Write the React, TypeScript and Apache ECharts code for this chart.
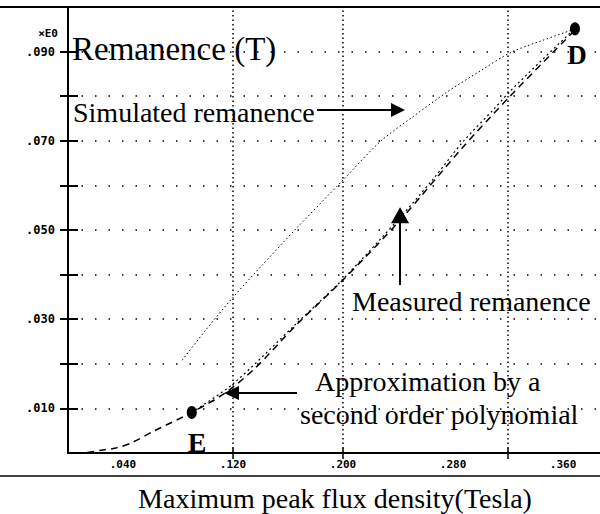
import React, { useEffect, useRef } from "react";
import * as echarts from "echarts";

// ---- data ----
const simX = [0.083, 0.1, 0.12, 0.14, 0.165, 0.2, 0.227, 0.25, 0.276, 0.3, 0.322, 0.345, 0.367];
const simY = [0.0208, 0.0275, 0.0349, 0.0417, 0.05, 0.0612, 0.0698, 0.0752, 0.081, 0.0857, 0.0898, 0.0925, 0.0949];

const apprX = [0.014, 0.024, 0.036, 0.047, 0.063, 0.09, 0.114, 0.136, 0.166, 0.2, 0.2415, 0.287, 0.3215, 0.367];
const apprY = [0.0001, 0.0006, 0.0012, 0.0024, 0.005, 0.0091, 0.0134, 0.019, 0.0287, 0.0388, 0.0522, 0.0685, 0.08, 0.0943];

const measX = [0.09, 0.12, 0.166, 0.2, 0.2415, 0.265, 0.287, 0.31, 0.3215, 0.345, 0.367];
const measY = [0.0091, 0.0155, 0.029, 0.039, 0.0528, 0.0612, 0.0697, 0.0772, 0.0811, 0.0882, 0.0947];

const pointE = [0.09, 0.0091];
const pointD = [0.3687, 0.0951];
const triangleMark = [0.2415, 0.0533];

const yTicks = [0.01, 0.02, 0.03, 0.04, 0.05, 0.06, 0.07, 0.08, 0.09];
const yLabels = [0.01, 0.03, 0.05, 0.07, 0.09];
const xLabels = [0.04, 0.12, 0.2, 0.28, 0.36];
const xTicks = [0.12, 0.2, 0.32];
const xGrid = [0.12, 0.2, 0.32];

const SERIF = "'Liberation Serif', 'DejaVu Serif', serif";
const MONO = "'DejaVu Sans Mono', 'Liberation Mono', monospace";

const fmt = (v: number) => "." + String(Math.round(v * 1000)).padStart(3, "0");
const zip = (xs: number[], ys: number[]) => xs.map((x, i) => [x, ys[i]]);

export default function App() {
  const ref = useRef<HTMLDivElement>(null);
  useEffect(() => {
    document.body.style.margin = "0";
    if (!ref.current) return;
    const chart = echarts.init(ref.current, undefined, { renderer: "svg" });
    const black = "#000";
    const text = (t: string, x: number, y: number, size: number, extra: any = {}) => ({
      type: "text",
      x,
      y,
      silent: true,
      style: {
        text: t,
        font: `${extra.bold ? "bold " : ""}${size}px ${SERIF}`,
        fill: black,
        textAlign: extra.align || "left",
        textVerticalAlign: "middle",
      },
    });
    chart.setOption({
      animation: false,
      backgroundColor: "#fff",
      grid: { left: 68, right: 0, top: 7, bottom: 61 },
      xAxis: [
        {
          type: "value",
          min: 0,
          max: 0.3869,
          position: "bottom",
          axisLine: { show: true, lineStyle: { color: black, width: 2 } },
          axisTick: { show: true, customValues: xTicks, length: 6, lineStyle: { color: black, width: 1.5 } },
          axisLabel: {
            customValues: xLabels,
            formatter: fmt,
            margin: 6,
            fontFamily: MONO,
            fontWeight: "bold",
            fontSize: 11,
            color: black,
          },
          splitLine: { show: false },
        },
        {
          type: "value",
          min: 0,
          max: 0.3869,
          position: "bottom",
          offset: 0,
          axisLine: { show: false },
          axisTick: { show: true, inside: true, customValues: xTicks, length: 5, lineStyle: { color: black, width: 1.5 } },
          axisLabel: { show: false },
          splitLine: { show: false },
        },
      ],
      yAxis: [
        {
          type: "value",
          min: 0,
          max: 0.1,
          position: "left",
          axisLine: { show: true, lineStyle: { color: black, width: 2 } },
          axisTick: { show: true, customValues: yTicks, length: 8, lineStyle: { color: black, width: 2 } },
          axisLabel: {
            customValues: yLabels,
            formatter: fmt,
            margin: 13,
            fontFamily: MONO,
            fontWeight: "bold",
            fontSize: 12,
            color: black,
          },
          splitLine: { show: false },
        },
        {
          type: "value",
          min: 0,
          max: 0.1,
          position: "left",
          offset: 0,
          axisLine: { show: false },
          axisTick: { show: true, inside: true, customValues: yTicks, length: 10, lineStyle: { color: black, width: 2 } },
          axisLabel: { show: false },
          splitLine: { show: false },
        },
      ],
      series: [
        {
          name: "grid",
          type: "line",
          data: [],
          silent: true,
          markLine: {
            silent: true,
            symbol: ["none", "none"],
            label: { show: false },
            animation: false,
            data: [
              ...yTicks.map((v) => ({
                yAxis: v,
                lineStyle: { color: black, width: 1.5, type: [1.5, 12], opacity: 1 },
              })),
              ...xGrid.map((v) => ({
                xAxis: v,
                lineStyle: { color: black, width: 1.5, type: [1.5, 3], opacity: 1 },
              })),
            ],
          },
        },
        {
          name: "Simulated remanence",
          type: "line",
          data: zip(simX, simY),
          smooth: 0.3,
          symbol: "none",
          lineStyle: { color: black, width: 1, type: [1.5, 2.5] },
        },
        {
          name: "Approximation",
          type: "line",
          data: zip(apprX, apprY),
          smooth: 0.3,
          symbol: "none",
          lineStyle: { color: black, width: 1.5, type: [7, 5] },
        },
        {
          name: "Measured remanence",
          type: "line",
          data: zip(measX, measY),
          smooth: 0.3,
          symbol: "none",
          lineStyle: { color: black, width: 1.2, type: [2, 3] },
        },
        {
          name: "points",
          type: "scatter",
          data: [pointE, pointD],
          symbol: "circle",
          symbolSize: [10, 13],
          itemStyle: { color: black, opacity: 1 },
        },
        {
          name: "triangle",
          type: "scatter",
          data: [triangleMark],
          symbol: "triangle",
          symbolSize: [18, 16],
          itemStyle: { color: black, opacity: 1 },
        },
      ],
      graphic: [
        { type: "line", silent: true, shape: { x1: 0, y1: 7, x2: 600, y2: 7 }, style: { stroke: black, lineWidth: 2 } },
        { type: "line", silent: true, shape: { x1: 0, y1: 476, x2: 600, y2: 476 }, style: { stroke: black, lineWidth: 1.5 } },
        {
          type: "text",
          x: 58,
          y: 33,
          silent: true,
          style: { text: "×E0", font: `bold 11px ${MONO}`, fill: black, textAlign: "right", textVerticalAlign: "middle" },
        },
        text("Remanence (T)", 72, 49, 33),
        text("Simulated remanence", 73, 112, 28),
        { type: "line", silent: true, shape: { x1: 317, y1: 110, x2: 395, y2: 110 }, style: { stroke: black, lineWidth: 2 } },
        { type: "polygon", silent: true, shape: { points: [[405, 110], [391, 103], [391, 117]] }, style: { fill: black } },
        text("Measured remanence", 352, 301, 28),
        { type: "line", silent: true, shape: { x1: 400, y1: 220, x2: 400, y2: 285 }, style: { stroke: black, lineWidth: 2 } },
        text("Approximation by a", 315, 381, 28),
        text("second order polynomial", 300, 414, 28),
        { type: "line", silent: true, shape: { x1: 297, y1: 393, x2: 236, y2: 393 }, style: { stroke: black, lineWidth: 2 } },
        { type: "polygon", silent: true, shape: { points: [[224, 393], [239, 386], [239, 400]] }, style: { fill: black } },
        text("E", 197, 442, 28, { bold: true, align: "center" }),
        text("D", 577, 55, 27, { bold: true, align: "center" }),
        text("Maximum peak flux density(Tesla)", 335, 498, 28, { align: "center" }),
      ],
    });
    return () => chart.dispose();
  }, []);
  return <div ref={ref} style={{ position: "fixed", left: 0, top: 0, width: 600, height: 514 }} />;
}
